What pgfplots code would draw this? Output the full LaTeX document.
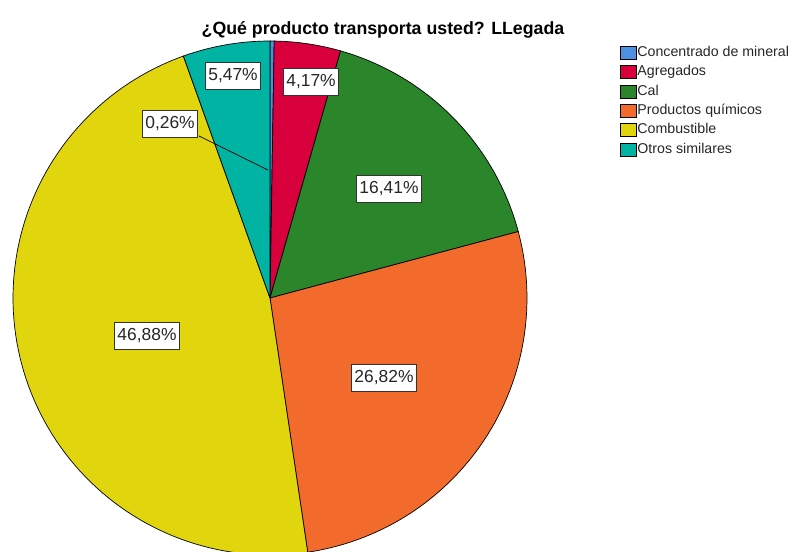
\documentclass[border=0pt]{standalone}
\usepackage{fontspec}
\setmainfont{Liberation Sans}
\usepackage{pgfplots}
\pgfplotsset{compat=1.18}
\definecolor{cBlue}{HTML}{4D8FE0}
\definecolor{cRed}{HTML}{D8003C}
\definecolor{cGreen}{HTML}{2B862B}
\definecolor{cOrange}{HTML}{F26A2C}
\definecolor{cYellow}{HTML}{E1D60E}
\definecolor{cTeal}{HTML}{00B3A2}
% pie values (percent), clockwise from the top
\def\vA{0.26}  % Concentrado de mineral
\def\vB{4.17}  % Agregados
\def\vC{16.41} % Cal
\def\vD{26.82} % Productos quimicos
\def\vE{46.88} % Combustible
\def\vF{5.47}  % Otros similares
\begin{document}
\begin{tikzpicture}
\pgfmathsetmacro{\tot}{\vA+\vB+\vC+\vD+\vE+\vF}
\pgfmathsetmacro{\aA}{0}
\pgfmathsetmacro{\aB}{(\vA)/\tot*360}
\pgfmathsetmacro{\aC}{(\vA+\vB)/\tot*360}
\pgfmathsetmacro{\aD}{(\vA+\vB+\vC)/\tot*360}
\pgfmathsetmacro{\aE}{(\vA+\vB+\vC+\vD)/\tot*360}
\pgfmathsetmacro{\aF}{(\vA+\vB+\vC+\vD+\vE)/\tot*360}
\pgfmathsetmacro{\aG}{360}
\begin{axis}[
  scale only axis, width=797bp, height=552bp,
  xmin=0, xmax=797, ymin=0, ymax=552, y dir=reverse,
  hide axis, clip=true,
  legend style={at={(axis cs:620,45)}, anchor=north west, draw=none, fill=none,
    font=\fontsize{14.2bp}{16bp}\selectfont, text=black!85,
    row sep=3.8bp, inner sep=0pt,
    nodes={inner sep=1bp, text height=10.5bp, text depth=3bp}},
  legend cell align=left,
  legend image code/.code={\draw[#1, draw=black, line width=0.7bp] (0bp,-6.5bp) rectangle (15.5bp,6.5bp);},
]
\path (axis cs:0,0) rectangle (axis cs:797,552);
\pgfplotsset{pieslice/.style={draw=black, line width=0.7bp, samples=60}}
\addplot[pieslice, fill=cBlue, domain=\aA:\aB, samples=4] ({270+257*sin(x)},{298-257*cos(x)}) -- (axis cs:270,298) -- cycle;
\addlegendentry{Concentrado de mineral}
\addplot[pieslice, fill=cRed, domain=\aB:\aC] ({270+257*sin(x)},{298-257*cos(x)}) -- (axis cs:270,298) -- cycle;
\addlegendentry{Agregados}
\addplot[pieslice, fill=cGreen, domain=\aC:\aD] ({270+257*sin(x)},{298-257*cos(x)}) -- (axis cs:270,298) -- cycle;
\addlegendentry{Cal}
\addplot[pieslice, fill=cOrange, domain=\aD:\aE] ({270+257*sin(x)},{298-257*cos(x)}) -- (axis cs:270,298) -- cycle;
\addlegendentry{Productos químicos}
\addplot[pieslice, fill=cYellow, domain=\aE:\aF, samples=100] ({270+257*sin(x)},{298-257*cos(x)}) -- (axis cs:270,298) -- cycle;
\addlegendentry{Combustible}
\addplot[pieslice, fill=cTeal, domain=\aF:\aG] ({270+257*sin(x)},{298-257*cos(x)}) -- (axis cs:270,298) -- cycle;
\addlegendentry{Otros similares}
% leader line for the small slice
\draw[black, line width=0.7bp] (axis cs:199,136) -- (axis cs:268,170);
% labels
\tikzset{lab/.style={draw=black!80, fill=white, line width=0.8bp, inner xsep=3bp, inner ysep=0bp,
  minimum height=27bp, text height=12.6bp, text depth=3.2bp, text=black!85,
  font=\fontsize{17.4bp}{20bp}\selectfont}}
\node[lab] at (axis cs:233,76) {5,47\%};
\node[lab] at (axis cs:311,82) {4,17\%};
\node[lab] at (axis cs:170,124) {0,26\%};
\node[lab] at (axis cs:389,189) {16,41\%};
\node[lab] at (axis cs:384,378) {26,82\%};
\node[lab] at (axis cs:147,336) {46,88\%};
% title
\node[anchor=base, font=\bfseries\fontsize{17.75bp}{20bp}\selectfont] at (axis cs:383,35) {¿Qué producto transporta usted? LLegada};
\end{axis}
\end{tikzpicture}
\end{document}
